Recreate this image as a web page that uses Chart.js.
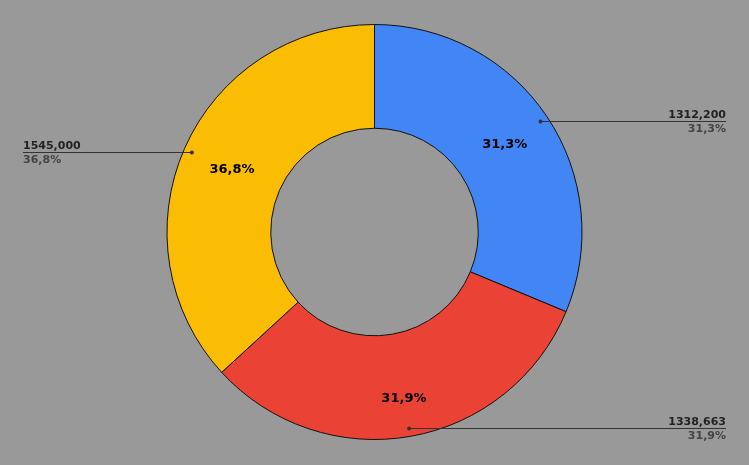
<!DOCTYPE html>
<html>
<head>
<meta charset="utf-8">
<script src="https://cdn.jsdelivr.net/npm/chart.js@4.4.0/dist/chart.umd.min.js"></script>
<style>
  html, body { margin: 0; padding: 0; background: #999999; }
  #wrap { width: 749px; height: 465px; position: relative; }
</style>
</head>
<body>
<div id="wrap"><canvas id="myChart"></canvas></div>
<script>
const labels = ['A', 'B', 'C'];
const values = [1312200, 1338663, 1545000];
const colors = ['#4285f4', '#ea4335', '#fbbc04'];

const total = values.reduce((a, b) => a + b, 0);

function pct(v) {
  return (v / total * 100).toFixed(1).replace('.', ',') + '%';
}
function valueText(v) {
  let rest = String(v % 1000).padStart(3, '0');
  return Math.floor(v / 1000) + ',' + rest;
}

// leader lines + labels drawn from the arc elements
const labelPlugin = {
  id: 'sliceLabels',
  afterDatasetsDraw(chart, args, opts) {
    const ctx = chart.ctx;
    const meta = chart.getDatasetMeta(0);
    meta.data.forEach((arc, i) => {
      const mid = (arc.startAngle + arc.endAngle) / 2;
      const dotR = arc.outerRadius - 8;
      const dx = arc.x + Math.cos(mid) * dotR;
      const dy = Math.round(arc.y + Math.sin(mid) * dotR) + 0.5;
      const right = Math.cos(mid) > 0;
      const endX = right ? 726 : 23;

      ctx.save();
      // inner percentage
      const lr = (arc.innerRadius + arc.outerRadius) / 2 + opts.nudge[i];
      ctx.font = 'bold 13px "DejaVu Sans", sans-serif';
      ctx.fillStyle = '#000';
      ctx.textAlign = 'center';
      ctx.textBaseline = 'middle';
      ctx.fillText(pct(values[i]), arc.x + Math.cos(mid) * lr, arc.y + Math.sin(mid) * lr);

      // leader line
      ctx.strokeStyle = '#333';
      ctx.lineWidth = 1;
      ctx.beginPath();
      ctx.moveTo(dx, dy);
      ctx.lineTo(endX, dy);
      ctx.stroke();
      ctx.fillStyle = '#333';
      ctx.beginPath();
      ctx.arc(dx, dy, 2, 0, Math.PI * 2);
      ctx.fill();

      // outside labels
      ctx.textAlign = right ? 'right' : 'left';
      ctx.textBaseline = 'alphabetic';
      ctx.font = 'bold 11px "DejaVu Sans", sans-serif';
      ctx.fillStyle = '#222';
      ctx.fillText(valueText(values[i]), endX, dy - 3.5);
      ctx.fillStyle = '#444';
      ctx.fillText(pct(values[i]), endX, dy + 10.5);
      ctx.restore();
    });
  }
};

const data = {
  labels: labels,
  datasets: [{
    data: values,
    backgroundColor: colors,
    borderColor: '#111',
    borderWidth: 1
  }]
};

const config = {
  type: 'doughnut',
  data: data,
  options: {
    responsive: false,
    animation: false,
    cutout: '50%',
    layout: { padding: { top: 24, bottom: 25, left: 0, right: 0 } },
    plugins: {
      legend: { display: false },
      tooltip: { enabled: false },
      sliceLabels: {
        nudge: [1, 14, 0]
      }
    }
  },
  plugins: [labelPlugin]
};

const canvas = document.getElementById('myChart');
canvas.width = 749;
canvas.height = 465;
var myChart = new Chart(canvas, config);
</script>
</body>
</html>
